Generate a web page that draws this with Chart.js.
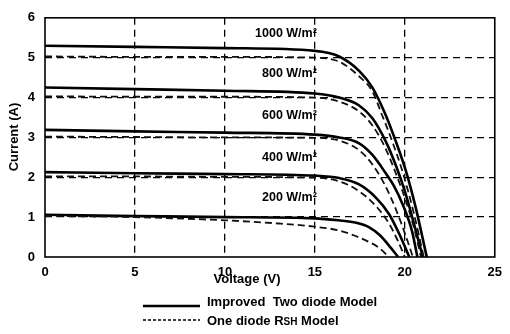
<!DOCTYPE html>
<html>
<head>
<meta charset="utf-8">
<script src="https://cdn.jsdelivr.net/npm/chart.js@4.4.1/dist/chart.umd.min.js"></script>
<style>
html,body{margin:0;padding:0;background:#fff;}
#wrap{width:510px;height:334px;position:relative;}
</style>
</head>
<body>
<div id="wrap"><canvas id="c" width="510" height="334"></canvas></div>
<script>
// Tick labels
const xTicks = [0, 5, 10, 15, 20, 25];
const yTicks = [0, 1, 2, 3, 4, 5, 6];
const irradianceLabels = ['1000 W/m²', '800 W/m²', '600 W/m²', '400 W/m²', '200 W/m²'];
const labelCurrents = [5.6, 4.6, 3.55, 2.5, 1.5];

// Improved two diode model (solid)
const vSolid1000 = [0, 5, 10, 15, 16.35, 17.46, 18.2, 18.9, 19.5, 20.1, 20.6, 21.22];
const iSolid1000 = [5.30, 5.27, 5.24, 5.17, 5.03, 4.67, 4.25, 3.6, 2.9, 2.1, 1.25, 0];
const vSolid800 = [0, 5, 10, 15, 16.35, 17.46, 18.2, 18.94, 19.5, 20.0, 20.5, 21.0];
const iSolid800 = [4.25, 4.21, 4.17, 4.1, 4.0, 3.8, 3.48, 2.9, 2.3, 1.65, 0.85, 0];
const vSolid600 = [0, 5, 10, 15, 16.35, 17.46, 18.2, 18.94, 19.4, 19.9, 20.4, 20.7];
const iSolid600 = [3.19, 3.15, 3.12, 3.07, 3.0, 2.85, 2.56, 2.1, 1.78, 1.3, 0.65, 0];
const vSolid400 = [0, 5, 10, 15, 16.35, 17.46, 18.39, 19.12, 19.68, 20.25];
const iSolid400 = [2.13, 2.10, 2.08, 2.04, 1.98, 1.82, 1.49, 1.08, 0.59, 0];
const vSolid200 = [0, 5, 10, 15, 16.3, 17.3, 18.0, 18.6, 19.1, 19.63];
const iSolid200 = [1.06, 1.03, 1.0, 0.97, 0.92, 0.86, 0.75, 0.55, 0.3, 0];

// One diode RSH model (dashed)
const vDash1000 = [0, 5, 10, 15, 16.35, 17.46, 18.2, 18.7, 19.3, 19.9, 20.5, 21.05];
const iDash1000 = [5.03, 5.02, 5.02, 5.0, 4.9, 4.53, 4.15, 3.6, 2.9, 2.1, 1.1, 0];
const vDash800 = [0, 5, 10, 15, 16.35, 17.46, 18.2, 18.9, 19.5, 20.1, 20.5, 20.9];
const iDash800 = [4.03, 4.02, 4.02, 4.0, 3.9, 3.65, 3.3, 2.75, 2.1, 1.35, 0.75, 0];
const vDash600 = [0, 5, 10, 15, 16.35, 17.46, 18.2, 18.9, 19.5, 20.0, 20.45];
const iDash600 = [3.02, 3.01, 3.0, 2.99, 2.92, 2.68, 2.32, 1.8, 1.2, 0.6, 0];
const vDash400 = [0, 5, 10, 15, 16.35, 17.46, 18.39, 19.12, 19.6, 20.0];
const iDash400 = [2.02, 2.02, 2.01, 1.99, 1.9, 1.65, 1.28, 0.84, 0.42, 0];
const vDash200 = [0, 5, 10, 13, 15, 16.3, 17.3, 18.0, 18.6, 19.1];
const iDash200 = [1.03, 1.0, 0.92, 0.84, 0.76, 0.67, 0.52, 0.38, 0.22, 0];

function pts(vs, is) { return vs.map((v, k) => ({x: v, y: is[k]})); }

const solidSets = [[vSolid1000, iSolid1000], [vSolid800, iSolid800], [vSolid600, iSolid600], [vSolid400, iSolid400], [vSolid200, iSolid200]];
const dashSets = [[vDash1000, iDash1000], [vDash800, iDash800], [vDash600, iDash600], [vDash400, iDash400], [vDash200, iDash200]];

const datasets = [];
dashSets.forEach(s => datasets.push({
  data: pts(s[0], s[1]), showLine: true, borderColor: '#111', borderWidth: 1.8,
  borderDash: [7, 4], pointRadius: 0, cubicInterpolationMode: 'monotone', fill: false
}));
solidSets.forEach(s => datasets.push({
  data: pts(s[0], s[1]), showLine: true, borderColor: '#000', borderWidth: 2.6,
  pointRadius: 0, cubicInterpolationMode: 'monotone', fill: false
}));

const FONT = '"Liberation Sans", Arial, sans-serif';

const decor = {
  id: 'decor',
  afterDatasetsDraw(chart) {
    const {ctx, chartArea: a, scales} = chart;
    ctx.save();
    ctx.strokeStyle = '#000';
    ctx.lineWidth = 1.6;
    ctx.setLineDash([]);
    ctx.strokeRect(a.left, a.top, a.right - a.left, a.bottom - a.top);
    // irradiance labels
    ctx.fillStyle = '#000';
    ctx.font = 'bold 12.5px ' + FONT;
    ctx.textAlign = 'right';
    ctx.textBaseline = 'middle';
    irradianceLabels.forEach((t, k) => {
      ctx.fillText(t, scales.x.getPixelForValue(15) + 2, scales.y.getPixelForValue(labelCurrents[k]));
    });
    ctx.restore();
  },
  afterDraw(chart) {
    const {ctx} = chart;
    ctx.save();
    ctx.fillStyle = '#000';
    ctx.font = 'bold 13px ' + FONT;
    ctx.textAlign = 'center';
    ctx.textBaseline = 'middle';
    ctx.fillText('Voltage (V)', 247, 279);
    ctx.save();
    ctx.translate(14, 137);
    ctx.rotate(-Math.PI / 2);
    ctx.fillText('Current (A)', 0, 0);
    ctx.restore();
    // legend
    ctx.strokeStyle = '#000';
    ctx.lineWidth = 2.4;
    ctx.beginPath(); ctx.moveTo(143, 306); ctx.lineTo(200, 306); ctx.stroke();
    ctx.lineWidth = 1.4;
    ctx.setLineDash([3, 2]);
    ctx.beginPath(); ctx.moveTo(143, 320); ctx.lineTo(200, 320); ctx.stroke();
    ctx.setLineDash([]);
    ctx.textAlign = 'left';
    ctx.textBaseline = 'alphabetic';
    ctx.font = 'bold 13px ' + FONT;
    ctx.fillText('Improved  Two diode Model', 207, 306);
    let x = 207;
    const p1 = 'One diode R';
    ctx.fillText(p1, x, 325); x += ctx.measureText(p1).width;
    ctx.font = 'bold 10px ' + FONT;
    ctx.fillText('SH', x, 325); x += ctx.measureText('SH').width;
    ctx.font = 'bold 13px ' + FONT;
    ctx.fillText(' Model', x, 325);
    ctx.restore();
  }
};

new Chart(document.getElementById('c'), {
  type: 'scatter',
  data: {datasets},
  options: {
    responsive: false,
    animation: false,
    layout: {padding: {top: 14, right: 14, left: 0, bottom: 0}},
    plugins: {legend: {display: false}, tooltip: {enabled: false}},
    scales: {
      x: {
        type: 'linear', min: 0, max: 25,
        afterBuildTicks: s => { s.ticks = xTicks.map(v => ({value: v})); },
        afterFit: s => { s.height = 77; },
        ticks: {color: '#000', font: {family: FONT, weight: 'bold', size: 13}, padding: 8, maxRotation: 0},
        grid: {
          color: c => (c.tick && (c.tick.value === 0 || c.tick.value === 25)) ? 'rgba(0,0,0,0)' : '#000',
          lineWidth: 1.3, drawTicks: false
        },
        border: {display: false, dash: [7, 5]}
      },
      y: {
        type: 'linear', min: 0, max: 6,
        afterBuildTicks: s => { s.ticks = yTicks.map(v => ({value: v})); },
        afterFit: s => { s.width = 45; },
        ticks: {color: '#000', font: {family: FONT, weight: 'bold', size: 13}, padding: 10},
        grid: {
          color: c => (c.tick && (c.tick.value === 0 || c.tick.value === 6)) ? 'rgba(0,0,0,0)' : '#000',
          lineWidth: 1.3, drawTicks: false
        },
        border: {display: false, dash: [7, 5]}
      }
    }
  },
  plugins: [decor]
});
</script>
</body>
</html>
